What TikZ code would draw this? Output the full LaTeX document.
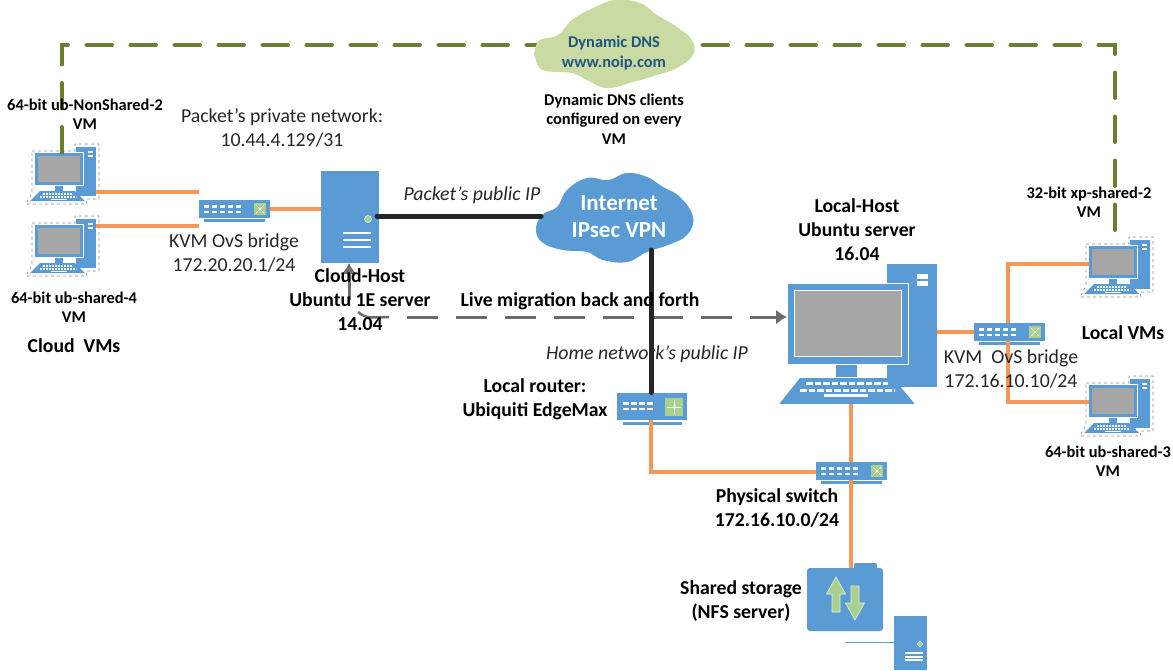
\documentclass[tikz,border=0pt]{standalone}
\usepackage{fontspec}
\setmainfont{Carlito}
\usetikzlibrary{arrows.meta}
\definecolor{iconblue}{HTML}{5B9BD5}
\definecolor{screengray}{HTML}{A6A6A6}
\definecolor{ledgreen}{HTML}{A9D18E}
\definecolor{dnsgreen}{HTML}{C9DBA3}
\definecolor{dnsline}{HTML}{6B7F2C}
\definecolor{ethorange}{HTML}{F4985A}
\definecolor{dnstext}{HTML}{22557F}
\tikzset{
	solidblue/.style={fill=iconblue,inner sep=0,outer sep=0},
	ethline/.style={draw=ethorange,line width=3.5pt},
	wanline/.style={draw=black!85,line width=5pt,line cap=round},
	dnspath/.style={draw=dnsline,line width=4pt,line cap=round,dash pattern=on 25.5pt off 18.5pt},
	migsolid/.style={draw=black!58,line width=3pt,-{Latex[length=11pt,width=15pt]}},
	migdash/.style={migsolid,dash pattern=on 31pt off 18pt},
	migstub/.style={draw=black!58,line width=2.5pt},
	plain/.style={font=\fontsize{19.8}{24}\selectfont,align=center,text=black!85,inner sep=0},
	boldbig/.style={font=\fontsize{19.7}{24}\selectfont\bfseries,align=center,inner sep=0},
	boldsmall/.style={font=\fontsize{16.4}{19.5}\selectfont\bfseries,align=center,inner sep=0},
	slant/.style={font=\fontsize{19.8}{24}\selectfont\itshape,text=black!85,inner sep=0},
	vmpc/.pic={
		\draw[black!45,dashed,line width=0.6pt] (-27,-18) -- (16,-18) -- (16,-25) -- (40,-25) -- (40,30) -- (27,30) -- (28,35) -- (-33,35) -- (-27,24) -- cycle;
		\node[solidblue,minimum width=20pt,minimum height=49pt] (-tower) at (27,2.5) {};
		\fill[white] (29,-18) rectangle (34,-16);
		\fill[white] (29,-14) rectangle (34,-12);
		\node[solidblue,draw=white,line width=0.7pt,minimum width=49pt,minimum height=33pt] (-mon) at (0,0) {};
		\fill[screengray] (-21,-13) rectangle (21,13);
		\fill[iconblue] (-4,17) rectangle (4,22);
		\fill[iconblue] (-19,22) -- (16,22) -- (26,32) -- (-29,32) -- cycle;
		\draw[white,line width=1.5pt,dash pattern=on 2pt off 1pt] (-16,25) -- (14,25);
		\draw[white,line width=1.5pt,dash pattern=on 2pt off 1pt] (-19,28) -- (17,28);
		\fill[white] (-8,30) rectangle (8,31);
	},
	kvmswitch/.pic={
		\node[solidblue,minimum width=71pt,minimum height=18pt] (-body) at (0,0) {};
		\fill[iconblue] (-30,10) rectangle (31,13);
		\foreach \col in {0,...,4} {
			\fill[white] (-30+\col*8,-4) rectangle (-25+\col*8,-1.5);
			\fill[white] (-30+\col*8,1.5) rectangle (-25+\col*8,4);
		}
		\fill[ledgreen] (20,-6) rectangle (32,6);
		\draw[white,line width=0.7pt] (22,-4) -- (30,4);
		\draw[white,line width=0.7pt] (22,4) -- (30,-4);
	},
}
\begin{document}
\begin{tikzpicture}[x=1pt,y=-1pt]
	\useasboundingbox (0,0) rectangle (1173,670);
	\pic (vma) at (59,169) {vmpc};
	\pic (vmb) at (59,241) {vmpc};
	\pic (vmc) at (1113,262) {vmpc};
	\pic (vmd) at (1113,401) {vmpc};
	\coordinate (dnsa) at (62,45);
	\coordinate (dnsb) at (1115,45);
	\draw[dnspath] (vma-mon.north -| dnsa) -- (dnsa) -- (dnsb) -- (vmc-mon.north -| dnsb);
	\fill[dnsgreen] plot[smooth cycle,tension=0.7] coordinates {(535,50) (540,40) (558,35) (572,20) (593,8) (615,0) (640,3) (657,15) (677,27) (692,40) (693,55) (677,68) (657,75) (633,82) (607,88) (587,80) (572,73) (543,70) (535,57)};
	\fill[iconblue] plot[smooth cycle,tension=0.7] coordinates {(536,230) (542,215) (557,207) (567,190) (587,178) (608,180) (627,173) (647,177) (663,187) (680,197) (693,217) (687,235) (668,245) (647,252) (627,262) (603,260) (587,252) (563,250) (543,243)};
	\node[inner sep=0,outer sep=0,minimum width=148pt,minimum height=89pt] (inet) at (615,218) {};
	\pic (swa) at (234,209) {kvmswitch};
	\pic (swb) at (1009,332) {kvmswitch};
	\pic (swc) at (851,471) {kvmswitch};
	\node[solidblue,minimum width=70pt,minimum height=27pt] (router) at (652,406) {};
	\fill[iconblue] (623,422) rectangle (682,425);
	\foreach \col in {0,...,3} {
		\fill[white] (623+\col*8,402) rectangle (629+\col*8,404.5);
		\fill[white] (623+\col*8,407.5) rectangle (629+\col*8,410);
	}
	\fill[ledgreen] (665,398) rectangle (683,416);
	\draw[white,line width=0.7pt] (674,400) -- (674,414);
	\draw[white,line width=0.7pt] (667,407) -- (681,407);
	\node[solidblue,minimum width=58pt,minimum height=92pt] (cloudhost) at (350,217) {};
	\node[circle,fill=ledgreen,draw=white,line width=0.5pt,inner sep=0,minimum size=7pt] (hostled) at (368,219) {};
	\foreach \ypos in {233,240,247} {
		\fill[white] (343,\ypos-0.8) rectangle (371,\ypos+0.8);
	}
	\node[solidblue,minimum width=50pt,minimum height=123pt] (tower) at (912,325.5) {};
	\fill[white] (917,274) rectangle (928,279);
	\fill[white] (917,281) rectangle (928,286);
	\node[solidblue,draw=white,line width=0.8pt,minimum width=121pt,minimum height=81pt] (monitor) at (847.5,323.5) {};
	\fill[screengray,draw=white,line width=0.6pt] (794,290) rectangle (901,356);
	\fill[iconblue] (836,365) rectangle (857,377);
	\node[solidblue,minimum width=134pt,minimum height=1pt] (keybase) at (847,403) {};
	\fill[iconblue] (800,378) -- (893,378) -- (914,403) -- (780,403) -- cycle;
	\draw[white,line width=3pt,dash pattern=on 6.5pt off 2pt] (806,383) -- (888,383);
	\draw[white,line width=3pt,dash pattern=on 6.5pt off 2pt] (800,390) -- (894,390);
	\fill[white] (824,394) rectangle (868,397);
	\node[solidblue,rounded corners=3pt,minimum width=76pt,minimum height=63pt] (storage) at (845,599.5) {};
	\fill[iconblue,rounded corners=2pt] (854,569) -- (854,563) -- (877,563) -- (877,569) -- cycle;
	\fill[ledgreen,draw=white!70!ledgreen,line width=0.6pt] (836,577) -- (845.5,594) -- (840,594) -- (840,612) -- (832,612) -- (832,594) -- (826.5,594) -- cycle;
	\fill[ledgreen,draw=white!70!ledgreen,line width=0.6pt] (855,620) -- (864.5,603) -- (859,603) -- (859,586) -- (851,586) -- (851,603) -- (845.5,603) -- cycle;
	\node[solidblue,minimum width=33pt,minimum height=54pt] (nfshost) at (910.5,643) {};
	\node[circle,fill=ledgreen,draw=white,line width=0.6pt,inner sep=0,minimum size=5pt] (nfsled) at (920,644) {};
	\foreach \ypos in {653,657,660} {
		\fill[white] (905,\ypos-0.7) rectangle (923,\ypos+0.7);
	}
	\coordinate (nfsstub) at (845,642);
	\draw[iconblue,line width=0.7pt] (nfsstub) -- (nfshost.west |- nfsstub);
	\coordinate (vmaend) at (199,192);
	\coordinate (vmbend) at (199,226);
	\draw[ethline] (vma-tower.east |- vmaend) -- (vmaend);
	\draw[ethline] (vmb-tower.east |- vmbend) -- (vmbend);
	\draw[ethline] (swa-body.east) -- (swa-body.east -| cloudhost.west);
	\draw[ethline] (tower.east |- swb-body.west) -- (swb-body.west);
	\coordinate (upbend) at (1008,264);
	\coordinate (downbend) at (1008,402);
	\draw[ethline] (swb-body.north -| upbend) -- (upbend) -- (upbend -| vmc-mon.west);
	\draw[ethline] (swb-body.south -| downbend) -- (downbend) -- (downbend -| vmd-mon.west);
	\coordinate (routerdown) at (651,472);
	\draw[ethline] (router.south -| routerdown) -- (routerdown) -- (routerdown -| swc-body.west);
	\draw[ethline] (keybase.south -| swc-body.north) -- (swc-body.north);
	\draw[ethline] (swc-body.south) -- (storage.north -| swc-body.south);
	\coordinate (hostport) at (377,216);
	\coordinate (inetdown) at (651,250);
	\coordinate (migcorner) at (349,300);
	\coordinate (stubstart) at (358,312);
	\coordinate (stubend) at (389,317);
	\coordinate (migstart) at (407,317);
	\draw[migsolid] (migcorner) -- (cloudhost.south -| migcorner);
	\draw[migstub] (stubstart) .. controls (366,318) .. (stubend);
	\draw[migdash] (migstart) -- (migstart -| monitor.west);
	\draw[wanline] (hostport) -- (hostport -| inet.west);
	\draw[wanline] (inetdown) -- (router.north -| inetdown);
	\node[boldsmall] (vmalabel) at (85,114) {64-bit ub-NonShared-2\\VM};
	\node[plain] (privatelabel) at (282,128) {Packet’s private network:\\10.44.4.129/31};
	\node[plain] (swalabel) at (234,253.5) {KVM OvS bridge\\172.20.20.1/24};
	\node[boldsmall] (vmblabel) at (74,307) {64-bit ub-shared-4\\VM};
	\node[boldbig] (cloudvms) at (74,346) {Cloud\ \ VMs};
	\node[boldbig] (hostlabel) at (360,300) {Cloud-Host\\Ubuntu 1E server\\14.04};
	\node[slant] (publiclabel) at (472,195) {Packet’s public IP};
	\node[font=\fontsize{23}{27}\selectfont\bfseries,align=center,text=white,inner sep=0] (inetlabel) at (619,217) {Internet\\IPsec VPN};
	\node[boldbig] (miglabel) at (580,301) {Live migration back and forth};
	\node[slant] (homelabel) at (647,354) {Home network’s public IP};
	\node[boldbig] (routerlabel) at (535,399) {Local router:\\Ubiquiti EdgeMax};
	\node[boldbig] (locallabel) at (857,230) {Local-Host\\Ubuntu server\\16.04};
	\node[boldsmall] (vmclabel) at (1089,202) {32-bit xp-shared-2\\VM};
	\node[boldbig] (localvms) at (1123,333) {Local VMs};
	\node[plain] (swblabel) at (1011,369.5) {KVM\ \ OvS bridge\\172.16.10.10/24};
	\node[boldsmall] (vmdlabel) at (1108,461) {64-bit ub-shared-3\\VM};
	\node[boldbig] (swclabel) at (777,508) {Physical switch\\172.16.10.0/24};
	\node[boldbig] (storagelabel) at (741,601) {Shared storage\\(NFS server)};
	\node[boldsmall,text=dnstext] (dnslabel) at (614,53) {Dynamic DNS\\www.noip.com};
	\node[boldsmall] (clientslabel) at (614,119) {Dynamic DNS clients\\configured on every\\VM};
\end{tikzpicture}
\end{document}
